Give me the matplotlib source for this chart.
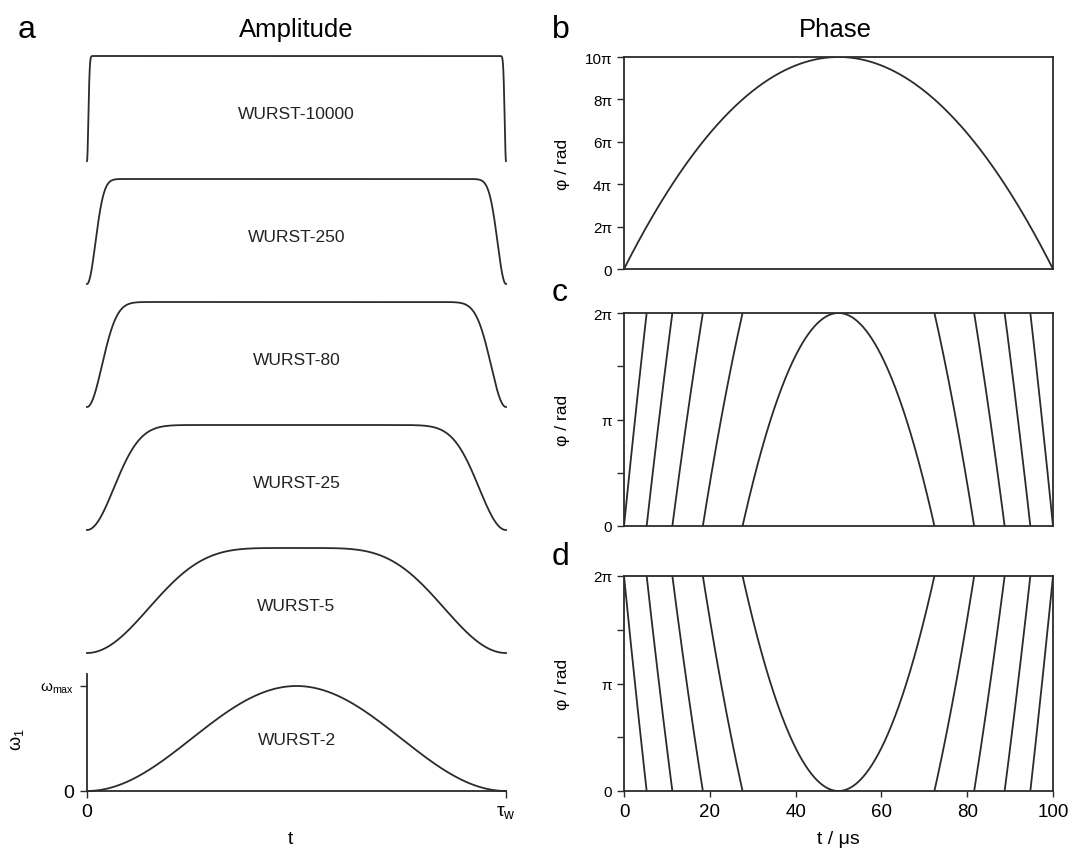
import matplotlib
matplotlib.use("Agg")
import matplotlib.pyplot as plt
import numpy as np

plt.rcParams['font.family'] = ['Liberation Sans', 'DejaVu Sans']
plt.rcParams['mathtext.fontset'] = 'custom'
plt.rcParams['mathtext.rm'] = 'Liberation Sans'
plt.rcParams['mathtext.it'] = 'Liberation Sans:italic'

# WURST amplitude orders, top to bottom
wurst_orders = [10000, 250, 80, 25, 5, 2]
wurst_labels = ["WURST-10000", "WURST-250", "WURST-80", "WURST-25", "WURST-5", "WURST-2"]

# phase of the chirp: parabola, 0 -> 10 pi -> 0 over the pulse
pulse_len_us = 100
phase_peak_rad = 10 * np.pi
phase_ticks_b = [0, 2, 4, 6, 8, 10]          # in units of pi
phase_ticklabels_b = ["0", "2π", "4π", "6π", "8π", "10π"]
phase_ticks_cd = [0, 0.5, 1, 1.5, 2]          # in units of pi
phase_ticklabels_cd = ["0", "", "π", "", "2π"]
time_ticks = [0, 20, 40, 60, 80, 100]

col = "#2b2b2b"
lw = 1.3

W, H = 1072, 853
fig = plt.figure(figsize=(W / 100, H / 100), dpi=100)


def box(l, t, r, b):
    return [l / W, 1 - b / H, (r - l) / W, (b - t) / H]


# ---- a: amplitude shapes ----
tau = np.linspace(0, 1, 4001)
for i, n in enumerate(wurst_orders[:-1]):
    base = 162 + 123 * i
    ax = fig.add_axes(box(87, base - 105, 506, base))
    amp = 1 - np.abs(np.cos(np.pi * tau)) ** n
    ax.plot(tau, amp, color=col, lw=lw, clip_on=False)
    ax.set_xlim(0, 1)
    ax.set_ylim(0, 1)
    ax.axis("off")
    ax.text(0.5, 0.45, wurst_labels[i], ha="center", va="center", fontsize=12.5, color="#222")

ax = fig.add_axes(box(87, 675, 506, 792))
amp = 1 - np.abs(np.cos(np.pi * tau)) ** wurst_orders[-1]
ax.plot(tau, amp, color=col, lw=lw, clip_on=False)
ax.set_xlim(0, 1)
ax.set_ylim(0, 117 / 105)
for s in ["top", "right"]:
    ax.spines[s].set_visible(False)
for s in ["left", "bottom"]:
    ax.spines[s].set_color(col)
    ax.spines[s].set_linewidth(lw)
ax.set_xticks([0, 1])
ax.set_xticklabels(["0", "τ$_{\\rm w}$"], fontsize=14)
ax.set_yticks([0, 1])
ax.set_yticklabels(["0", "ω$_{\\rm max}$"])
ax.get_yticklabels()[0].set_fontsize(14)
ax.get_yticklabels()[1].set_fontsize(11)
ax.tick_params(direction="out", length=5, width=1, color=col, pad=4)
ax.text(0.5, 0.44, wurst_labels[-1], transform=ax.transAxes, ha="center", va="center", fontsize=12.5, color="#222")
fig.text(17 / W, 1 - 740 / H, "ω$_1$", rotation=90, ha="center", va="center", fontsize=13)
fig.text(290 / W, 1 - 840 / H, "t", ha="center", va="center", fontsize=14)

# ---- b, c, d: phase ----
t_us = np.linspace(0, pulse_len_us, 8001)
half = pulse_len_us / 2
phase = phase_peak_rad * (1 - ((t_us - half) / half) ** 2)
n_wraps = int(np.ceil(phase_peak_rad / (2 * np.pi)))

ax_b = fig.add_axes(box(624, 58, 1053, 270))
ax_b.plot(t_us, phase, color=col, lw=lw)
ax_b.set_ylim(0, phase_peak_rad)

ax_c = fig.add_axes(box(624, 314, 1053, 527))
for k in range(n_wraps):
    ax_c.plot(t_us, phase - 2 * np.pi * k, color=col, lw=lw)
ax_c.set_ylim(0, 2 * np.pi)

ax_d = fig.add_axes(box(624, 577, 1053, 792))
for k in range(n_wraps):
    ax_d.plot(t_us, 2 * np.pi * (k + 1) - phase, color=col, lw=lw)
ax_d.set_ylim(0, 2 * np.pi)

for a in [ax_b, ax_c, ax_d]:
    a.set_xlim(0, pulse_len_us)
    for s in a.spines.values():
        s.set_color(col)
        s.set_linewidth(lw)
    a.tick_params(direction="out", length=5, width=1, color=col, labelsize=11)
    a.set_ylabel("φ / rad", fontsize=12.5)
    a.yaxis.set_label_coords(-0.125, 0.5)

ax_b.set_yticks(np.array(phase_ticks_b) * np.pi)
ax_b.set_yticklabels(phase_ticklabels_b)
for a in [ax_c, ax_d]:
    a.set_yticks(np.array(phase_ticks_cd) * np.pi)
    a.set_yticklabels(phase_ticklabels_cd)
for a in [ax_b, ax_c]:
    a.set_xticks([])
ax_d.set_xticks(time_ticks)
ax_d.tick_params(axis="x", labelsize=13.5, length=4, pad=5)
fig.text(838 / W, 1 - 840 / H, "t / μs", ha="center", va="center", fontsize=14)

# panel letters and titles
fig.text(18 / W, 1 - 30 / H, "a", ha="left", va="center", fontsize=23)
fig.text(296 / W, 1 - 30 / H, "Amplitude", ha="center", va="center", fontsize=18.5)
fig.text(552 / W, 1 - 30 / H, "b", ha="left", va="center", fontsize=23)
fig.text(835 / W, 1 - 30 / H, "Phase", ha="center", va="center", fontsize=18.5)
fig.text(552 / W, 1 - 293 / H, "c", ha="left", va="center", fontsize=23)
fig.text(552 / W, 1 - 557 / H, "d", ha="left", va="center", fontsize=23)

fig.savefig("out.png", dpi=100, facecolor="white")
